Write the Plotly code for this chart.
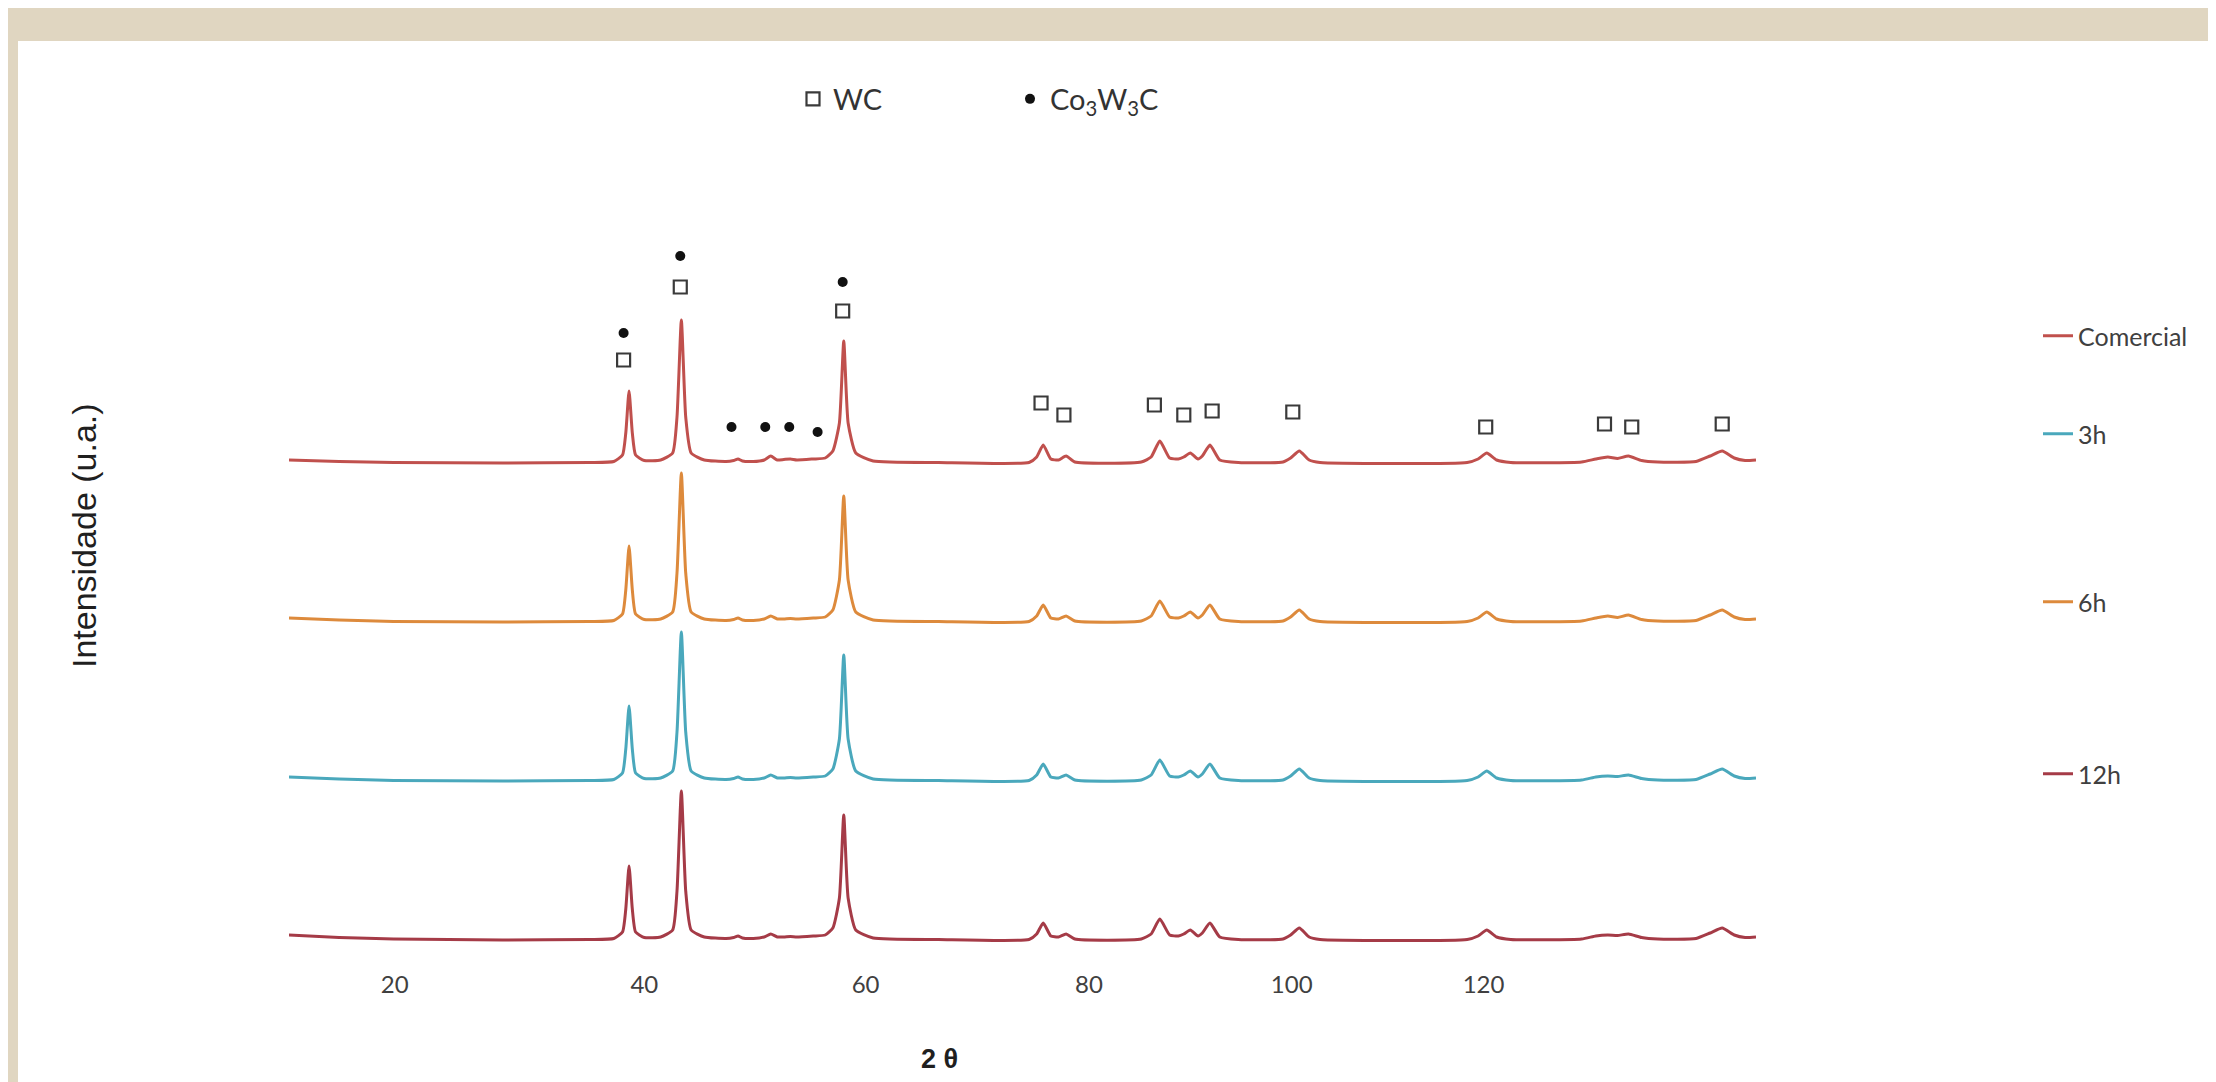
import plotly.graph_objects as go

# ---------------- data ----------------
# x positions of the pattern points (axis units, as laid out on the original category axis)
x_pts = [10.4, 15, 20, 30, 38, 40.2, 41.0, 41.3, 41.6, 41.9, 42.2, 43.0, 44.5, 45.6, 46.0, 46.4,
         46.8, 47.3, 48.5, 50.5, 51.2, 51.6, 52.0, 53.0, 54.0, 54.6, 55.2, 55.8, 56.4, 57.0,
         58.5, 59.6, 60.3, 60.9, 61.3, 61.7, 62.4, 64.0, 70, 78.3, 79.0, 79.6, 80.3, 81.0,
         81.7, 82.5, 88.6, 89.5, 90.3, 91.2, 92.0, 92.5, 93.1, 93.8, 94.2, 94.9, 95.8, 97.5,
         101.6, 102.3, 103.1, 104.0, 105.0, 118.5, 119.5, 120.3, 121.2, 122.5, 129.0, 130.3,
         131.4, 132.3, 133.3, 134.5, 136.0, 139.5, 140.8, 141.9, 143.0, 144.0, 145.0]

int_comercial = [3, 1.5, 0.5, 0, 0.5, 1.5, 8, 30, 72, 30, 8, 2.5, 3, 10, 46, 143,
                 46, 10, 3, 1.5, 2.5, 4, 2, 1.5, 3, 7, 3, 3.5, 4, 3,
                 4, 5, 12, 40, 122, 40, 10, 2, 0.5, 0.5, 6, 18, 4, 3,
                 7, 1, 1, 6, 22, 5, 4, 6, 10, 4, 7, 18, 3, 0.5,
                 1, 5, 12, 3, 0.5, 0.5, 4, 10, 3, 0.5, 1, 4,
                 6, 4.5, 7, 2.5, 1, 1.5, 7, 12, 5, 2.5, 3]
int_6h = [4, 2, 0.5, 0, 0.5, 1.5, 8, 32, 76, 32, 8, 2.5, 3, 10, 49, 149,
          49, 10, 3, 1.5, 2.5, 4, 2, 1.5, 3, 6, 3, 3, 3.5, 3,
          4, 5, 12, 42, 126, 42, 10, 2, 0.5, 0.5, 6, 17, 4, 3,
          6, 1, 1, 6, 21, 5, 4, 6, 10, 4, 7, 17, 3, 0.5,
          1, 5, 12, 3, 0.5, 0.5, 4, 10, 3, 0.5, 1, 4,
          6, 4.5, 7, 2.5, 1, 1.5, 7, 12, 5, 2.5, 3]
int_3h = [4, 2, 0.5, 0, 0.5, 1.5, 8, 32, 75, 32, 8, 2.5, 3, 10, 49, 149,
          49, 10, 3, 1.5, 2.5, 4, 2, 1.5, 3, 6, 3, 3, 3.5, 3,
          4, 5, 12, 42, 126, 42, 10, 2, 0.5, 0.5, 6, 17, 4, 3,
          6, 1, 1, 6, 21, 5, 4, 6, 10, 4, 7, 17, 3, 0.5,
          1, 5, 12, 3, 0.5, 0.5, 4, 10, 3, 0.5, 1, 4,
          5, 4.5, 6, 2.5, 1, 1.5, 7, 12, 5, 2.5, 3]
int_12h = [5, 2.5, 1, 0, 0.5, 1.5, 8, 31, 74, 31, 8, 2.5, 3, 10, 49, 149,
           49, 10, 3, 1.5, 2.5, 4, 2, 1.5, 3, 6, 3, 3, 3.5, 3,
           4, 5, 12, 42, 125, 42, 10, 2, 0.5, 0.5, 6, 17, 4, 3,
           6, 1, 1, 6, 21, 5, 4, 6, 10, 4, 7, 17, 3, 0.5,
           1, 5, 12, 3, 0.5, 0.5, 4, 10, 3, 0.5, 1, 4,
           5, 4.5, 6, 2.5, 1, 1.5, 7, 12, 5, 2.5, 3]

series_names = ["Comercial", "6h", "3h", "12h"]
series_offsets = [477, 318, 159, 0]
series_colors = ["#c0504d", "#dd8a3c", "#4aa8bc", "#a53b47"]
series_data = [int_comercial, int_6h, int_3h, int_12h]

# phase markers (positions on the axis and height above the lowest pattern)
wc_x = [41.1, 46.3, 61.2, 79.4, 81.5, 89.8, 92.5, 95.1, 102.5, 120.2, 131.1, 133.6, 141.9]
wc_y = [580, 653, 629, 537, 525, 535, 525, 529, 528, 513, 516, 513, 516]
co_x = [41.1, 46.3, 61.2, 51.0, 54.1, 56.3, 58.9]
co_y = [607, 684, 658, 513, 513, 513, 508]

tick_pos = [20.1, 43.0, 63.3, 83.8, 102.4, 120.0]
tick_labels = ["20", "40", "60", "80", "100", "120"]

# ---------------- layout geometry (pixels) ----------------
W, H = 2216, 1082
L, R = 281, 1748
T, B = 146, 956
PW, PH = R - L, B - T


def fx(px):
    return (px - L) / PW


def fy(py):
    return (B - py) / PH


fig = go.Figure()

legend_ids = {"Comercial": "legend", "3h": "legend2", "6h": "legend3", "12h": "legend4"}
for name, off, col, vals in zip(series_names, series_offsets, series_colors, series_data):
    fig.add_trace(go.Scatter(
        x=x_pts, y=[v + off for v in vals], mode="lines", name=name, showlegend=True,
        line=dict(color=col, width=3, shape="spline", smoothing=0.5), legend=legend_ids[name]))

fig.add_trace(go.Scatter(
    x=wc_x, y=wc_y, mode="markers", name="WC", legend="legend5", showlegend=True,
    marker=dict(symbol="square-open", size=13, color="#3a3a3a", line=dict(width=2.2, color="#3a3a3a"))))
fig.add_trace(go.Scatter(
    x=co_x, y=co_y, mode="markers", name="Co<sub>3</sub>W<sub>3</sub>C", legend="legend6", showlegend=True,
    marker=dict(symbol="circle", size=10, color="#111111")))

leg_font = dict(family="Lato, Open Sans, sans-serif", size=25, color="#404040")


def leg(px, py):
    return dict(x=fx(px), y=fy(py), xanchor="left", yanchor="middle", visible=True,
                bgcolor="rgba(0,0,0,0)", font=leg_font, itemwidth=30)


top_font = dict(family="Lato, Open Sans, sans-serif", size=29, color="#333333")

fig.update_layout(
    width=W, height=H,
    showlegend=True,
    margin=dict(l=L, r=W - R, t=T, b=H - B),
    paper_bgcolor="#e0d6c1",
    plot_bgcolor="rgba(0,0,0,0)",
    legend=leg(2030, 328),
    legend2=leg(2030, 426),
    legend3=leg(2030, 594),
    legend4=leg(2030, 766),
    legend5=dict(x=fx(785), y=fy(91), xanchor="left", yanchor="middle",
                 bgcolor="rgba(0,0,0,0)", font=top_font),
    legend6=dict(x=fx(1002), y=fy(91), xanchor="left", yanchor="middle",
                 bgcolor="rgba(0,0,0,0)", font=top_font),
    xaxis=dict(range=[10.4, 145.0], showgrid=False, zeroline=False, showline=False,
               tickmode="array", tickvals=tick_pos, ticktext=tick_labels, ticks="",
               ticklabelstandoff=4,
               tickfont=dict(family="Lato, Open Sans, sans-serif", size=24, color="#404040")),
    yaxis=dict(range=[-24, 786], showgrid=False, zeroline=False, showline=False,
               showticklabels=False, ticks=""),
    shapes=[dict(type="rect", xref="paper", yref="paper", layer="below",
                 x0=fx(10), x1=fx(W + 5), y0=fy(H + 5), y1=fy(33),
                 fillcolor="white", line=dict(width=0))],
    annotations=[
        dict(text="Intensidade (u.a.)", x=fx(76), y=fy(528), xref="paper", yref="paper",
             showarrow=False, textangle=-90, xanchor="center", yanchor="middle",
             font=dict(family="Liberation Sans, Arial, sans-serif", size=34, color="#1f1f1f")),
        dict(text="<b>2 θ</b>", x=fx(931), y=fy(1051), xref="paper", yref="paper",
             showarrow=False, xanchor="center", yanchor="middle",
             font=dict(family="Liberation Sans, Arial, sans-serif", size=27, color="#1f1f1f")),
    ],
)

fig.write_html("out.html")
